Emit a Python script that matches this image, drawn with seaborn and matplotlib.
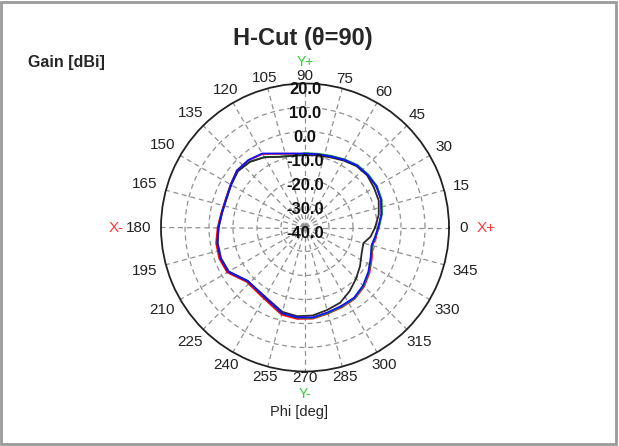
import numpy as np
import pandas as pd
import seaborn as sns
import matplotlib.pyplot as plt
from matplotlib import transforms
from matplotlib.patches import Rectangle

# Phi angles (deg) and gain (dBi).
phi_deg = [0, 10, 20, 30, 40, 50, 60, 70, 80, 90, 100, 110, 120, 130, 140, 150,
           160, 170, 180, 190, 200, 210, 223, 235, 245, 255, 265, 275, 285, 295,
           305, 315, 325, 335, 345, 352, 360]
gain_black = [-10.8, -8.8, -7.3, -6.8, -6.2, -6.6, -7.8, -8.9, -9.5, -9.8, -9.7, -8.7,
              -6.2, -4.3, -3.5, -4.5, -5.2, -4.9, -4.0, -3.0, -2.7, -3.3, -7.4, -7.2,
              -6.0, -3.6, -2.9, -3.2, -4.4, -5.4, -7.6, -9.9, -12.0, -14.0, -14.8,
              -12.4, -10.8]
gain_red = [-9.3, -7.6, -6.2, -5.6, -5.9, -6.4, -7.5, -8.5, -9.1, -9.3, -8.8, -7.3,
            -4.6, -3.4, -3.0, -4.2, -4.9, -4.6, -3.6, -2.4, -2.0, -2.6, -6.8, -6.4,
            -5.0, -2.4, -1.8, -1.9, -2.9, -3.4, -3.8, -5.2, -7.2, -9.3, -10.9,
            -10.2, -9.3]
gain_green = [-9.2, -7.4, -6.0, -5.4, -5.6, -6.0, -7.2, -8.2, -8.8, -9.0, -9.6, -8.6,
              -6.1, -4.2, -3.4, -4.4, -5.1, -4.9, -4.0, -3.0, -2.7, -3.3, -7.3, -7.0,
              -5.6, -3.0, -2.3, -2.2, -3.1, -3.7, -4.0, -5.5, -7.5, -9.6, -11.1,
              -10.5, -9.2]
gain_blue = [-9.5, -7.7, -6.3, -5.7, -5.9, -6.3, -7.4, -8.5, -9.0, -9.2, -8.7, -7.2,
             -4.4, -3.3, -3.0, -4.3, -5.0, -4.8, -3.9, -2.9, -2.5, -3.1, -7.3, -7.0,
             -5.6, -3.0, -2.4, -2.4, -3.4, -4.0, -4.3, -5.8, -7.8, -9.8, -11.3,
             -10.6, -9.5]

r_ticks = [20, 10, 0, -10, -20, -30, -40]
theta_ticks = list(range(0, 360, 15))

series = {'red': gain_red, 'green': gain_green, 'black': gain_black, 'blue': gain_blue}
frames = []
for name, vals in series.items():
    part = pd.DataFrame({'theta': np.deg2rad(phi_deg), 'gain': vals})
    part['trace'] = name
    frames.append(part)
df = pd.concat(frames, ignore_index=True)

sns.set_style('white')
plt.rcParams['font.family'] = ['Liberation Sans', 'DejaVu Sans']

W, H = 619, 446
fig = plt.figure(figsize=(W / 100, H / 100), dpi=100)
cx, cy, rad = 305, 227.5, 144
ax = fig.add_axes([(cx - rad) / W, (H - cy - rad) / H, 2 * rad / W, 2 * rad / H],
                  projection='polar')

palette = {'red': '#ff0000', 'green': '#16a016', 'black': '#2a2a2a', 'blue': '#1010ff'}
sns.lineplot(data=df, x='theta', y='gain', hue='trace', hue_order=list(series),
             palette=palette, sort=False, estimator=None, linewidth=1.3,
             legend=False, ax=ax)

ax.set_ylim(-40, 20)
ax.set_xlabel('')
ax.set_ylabel('')
ax.set_xticks(np.deg2rad(theta_ticks))
ax.set_xticklabels([])
ax.set_yticks(r_ticks[1:-1])
ax.set_yticklabels([])
ax.set_axisbelow(True)
ax.grid(True, color='#909090', linestyle=(0, (4, 3)), linewidth=0.9)
ax.spines['polar'].set_color('#222222')
ax.spines['polar'].set_linewidth(1.3)

# angle labels just outside the rim
for t in theta_ticks:
    lab = str(t)
    a = np.deg2rad(t)
    w = 8.5 * len(lab)
    d = 151 + (0.5 * w + 3) * abs(np.cos(a))
    fig.text((cx + d * np.cos(a)) / W, 1 - (cy - d * np.sin(a)) / H, lab,
             ha='center', va='center', fontsize=11, color='#222222')

# radial gain labels along the 90 deg spoke
off = transforms.offset_copy(ax.transData, fig=fig, x=0, y=-6.5, units='dots')
for v in r_ticks:
    ax.text(np.pi / 2, v, f'{v:.1f}', transform=off, ha='center', va='center',
            fontsize=12, fontweight='bold', color='#111111', zorder=5)

def px(x, y):
    return x / W, 1 - y / H

fig.text(*px(303, 39), 'H-Cut (\u03b8=90)', ha='center', va='center',
         fontsize=17, fontweight='bold')
fig.text(*px(28, 62), 'Gain [dBi]', ha='left', va='center', fontsize=11.5,
         fontweight='bold')
fig.text(*px(299, 412), 'Phi [deg]', ha='center', va='center', fontsize=10.5)
fig.text(*px(305, 62), 'Y+', ha='center', va='center', fontsize=10, color='#33cc33')
fig.text(*px(305, 394), 'Y-', ha='center', va='center', fontsize=10, color='#33cc33')
fig.text(*px(116, 228), 'X-', ha='center', va='center', fontsize=11, color='#ff3b3b')
fig.text(*px(486, 228), 'X+', ha='center', va='center', fontsize=11, color='#ff3b3b')

fig.patches.append(Rectangle((1 / W, 2 / H), 1 - 4 / W, 1 - 4 / H, transform=fig.transFigure,
                             fill=False, edgecolor='#9a9a9a', linewidth=2))

fig.savefig('out.png', dpi=100)
